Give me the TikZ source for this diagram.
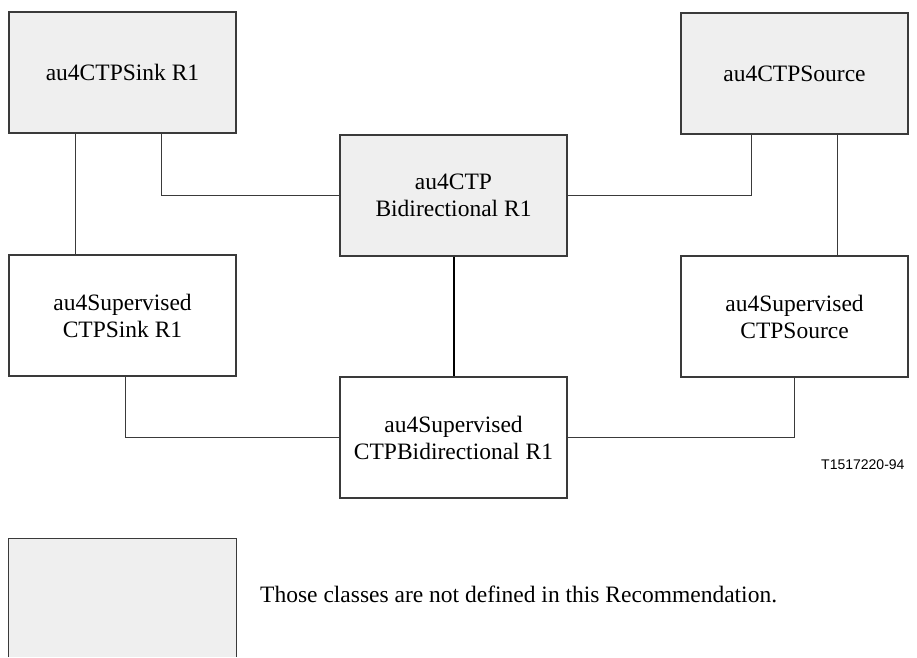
\documentclass[tikz,border=0pt]{standalone}
\usepackage{fontspec}
\setmainfont{Liberation Serif}
\newfontfamily\labelfont{Liberation Sans}
\definecolor{boxfill}{HTML}{EFEFEF}
\definecolor{edge}{HTML}{3A3A3A}
\tikzset{
  cls/.style={draw=edge, line width=1.2pt, minimum width=227pt, minimum height=121pt,
    inner sep=0pt, align=center, font=\fontsize{23.5}{27}\selectfont},
  gray cls/.style={cls, fill=boxfill},
  conn/.style={draw=edge, line width=1.1pt},
}
\begin{document}
\begin{tikzpicture}[x=1pt, y=-1pt]
\useasboundingbox (0,0) rectangle (917,657);
\node[gray cls] (sink) at (122.5,72.5) {au4CTPSink R1};
\node[gray cls] (source) at (794.5,73.5) {au4CTPSource};
\node[gray cls] (bidir) at (453.5,195.5) {au4CTP\\Bidirectional R1};
\node[cls] (supsink) at (122.5,315.5) {au4Supervised\\CTPSink R1};
\node[cls] (supsource) at (794.5,316.5) {au4Supervised\\CTPSource};
\node[cls] (supbidir) at (453.5,437.5) {au4Supervised\\CTPBidirectional R1};

\draw[conn] ([xshift=67pt]sink.south west) -- ([xshift=67pt]supsink.north west);
\draw[conn] ([xshift=153pt]sink.south west) |- (bidir.west);
\draw[conn] ([xshift=71pt]source.south west) |- (bidir.east);
\draw[conn] ([xshift=157pt]source.south west) -- ([xshift=157pt]supsource.north west);
\draw[line width=2pt, black] (bidir.south) -- (supbidir.north);
\draw[conn] ([xshift=117pt]supsink.south west) |- (supbidir.west);
\draw[conn] (supsource.south) |- (supbidir.east);

\node[anchor=west, inner sep=0pt, font=\labelfont\fontsize{14}{16}\selectfont] (tag) at (821,465) {T1517220-94};

\node[fill=boxfill, minimum width=227pt, minimum height=118pt, inner sep=0pt] (legend) at (122.5,598) {};
\draw[draw=edge, line width=1.2pt] (legend.south west) -- (legend.north west) -- (legend.north east) -- (legend.south east);
\node[anchor=west, inner sep=0pt, font=\fontsize{23.5}{27}\selectfont] (legendtext) at (260,594) {Those classes are not defined in this Recommendation.};
\end{tikzpicture}
\end{document}
